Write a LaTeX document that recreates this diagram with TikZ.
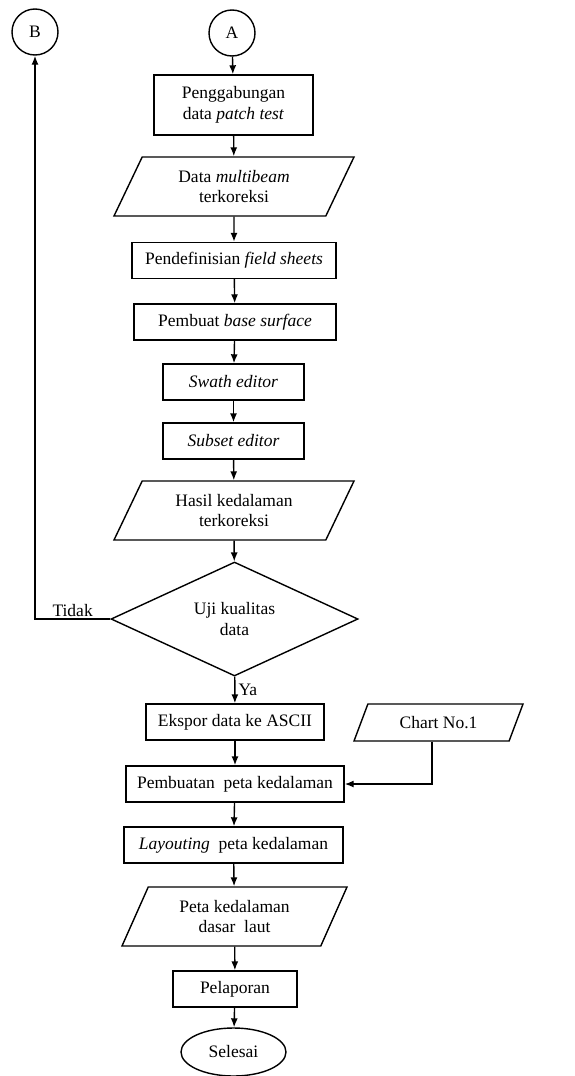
\documentclass[tikz,border=0pt]{standalone}
\usepackage{fontspec}
\setmainfont{Liberation Serif}
\usetikzlibrary{shapes.geometric,arrows.meta}

\tikzset{
  proses/.style={draw, rectangle, line width=1.4pt, align=center, minimum height=36pt, inner sep=2pt},
  dataio/.style={draw, trapezium, trapezium left angle=51, trapezium right angle=129,
    trapezium stretches body, line width=1.4pt, align=center, minimum height=59pt, inner sep=1pt},
  konektor/.style={draw, circle, line width=1.4pt, minimum size=46pt, inner sep=0pt},
  keputusan/.style={draw, diamond, line width=1.4pt, align=center, minimum width=247pt, minimum height=114pt, inner sep=0pt},
  terminal/.style={draw, ellipse, line width=1.4pt, minimum width=105pt, minimum height=48pt, inner sep=0pt},
  panah/.style={-{Latex[length=9pt,width=7pt]}, line width=1.4pt}
}

\begin{document}
\begin{tikzpicture}[x=1pt, y=-1pt, font=\fontsize{17.5}{20.5}\selectfont]
\useasboundingbox (0,0) rectangle (575,1076);

    % konektor halaman
    \node[konektor] (B) at (35,32) {B};
    \node[konektor] (A) at (232,33) {A};

    % alur pengolahan
    \node[proses, minimum width=159pt, minimum height=60pt] (gabung) at (233.5,105) {Penggabungan\\data \textit{patch test}};
    \node[dataio, minimum width=240pt] (mbes) at (234,186.5) {Data \textit{multibeam}\\terkoreksi};
    \node[proses, minimum width=204pt] (field) at (234,260.5) {Pendefinisian \textit{field sheets}};
    \node[proses, minimum width=202pt] (base) at (235,322) {Pembuat \textit{base surface}};
    \node[proses, minimum width=141pt] (swath) at (233.5,382) {\textit{Swath editor}};
    \node[proses, minimum width=141pt] (subset) at (233.5,441) {\textit{Subset editor}};
    \node[dataio, minimum width=240pt] (hasil) at (234,510.5) {Hasil kedalaman\\terkoreksi};
    \node[keputusan] (uji) at (234.5,619) {Uji kualitas\\data};
    \node[proses, minimum width=178pt] (ekspor) at (235,722) {Ekspor data ke ASCII};
    \node[dataio, trapezium left angle=46, trapezium right angle=134, minimum width=169pt, minimum height=37pt] (chart) at (438.5,722.5) {Chart No.1};
    \node[proses, minimum width=218pt] (peta) at (235,784) {Pembuatan\ \ peta kedalaman};
    \node[proses, minimum width=219pt] (layout) at (233.5,845) {\textit{Layouting}\ \ peta kedalaman};
    \node[dataio, trapezium left angle=53, trapezium right angle=127, minimum width=225pt] (petadasar) at (234.5,916.5) {Peta kedalaman\\dasar\ \ laut};
    \node[proses, minimum width=124pt] (lapor) at (235,989) {Pelaporan};
    \node[terminal] (selesai) at (233.5,1052) {Selesai};

    % panah
    \draw[panah] (A) -- (gabung);
    \draw[panah] (gabung) -- (mbes);
    \draw[panah] (mbes) -- (field);
    \draw[panah] (field) -- (base);
    \draw[panah] (base) -- (swath);
    \draw[panah] (swath) -- (subset);
    \draw[panah] (subset) -- (hasil);
    \draw[panah] (hasil) -- (uji);
    \draw[panah] (uji) -- node[right, inner sep=3pt] {Ya} (ekspor);
    \draw[panah] (uji.west) -| node[pos=0.25, above, inner sep=2pt] {Tidak} (B.south);
    \draw[panah] (ekspor) -- (peta);
    \draw[panah] ([xshift=-6.5pt]chart.south) |- (peta.east);
    \draw[panah] (peta) -- (layout);
    \draw[panah] (layout) -- (petadasar);
    \draw[panah] (petadasar) -- (lapor);
    \draw[panah] (lapor) -- (selesai);
\end{tikzpicture}
\end{document}
